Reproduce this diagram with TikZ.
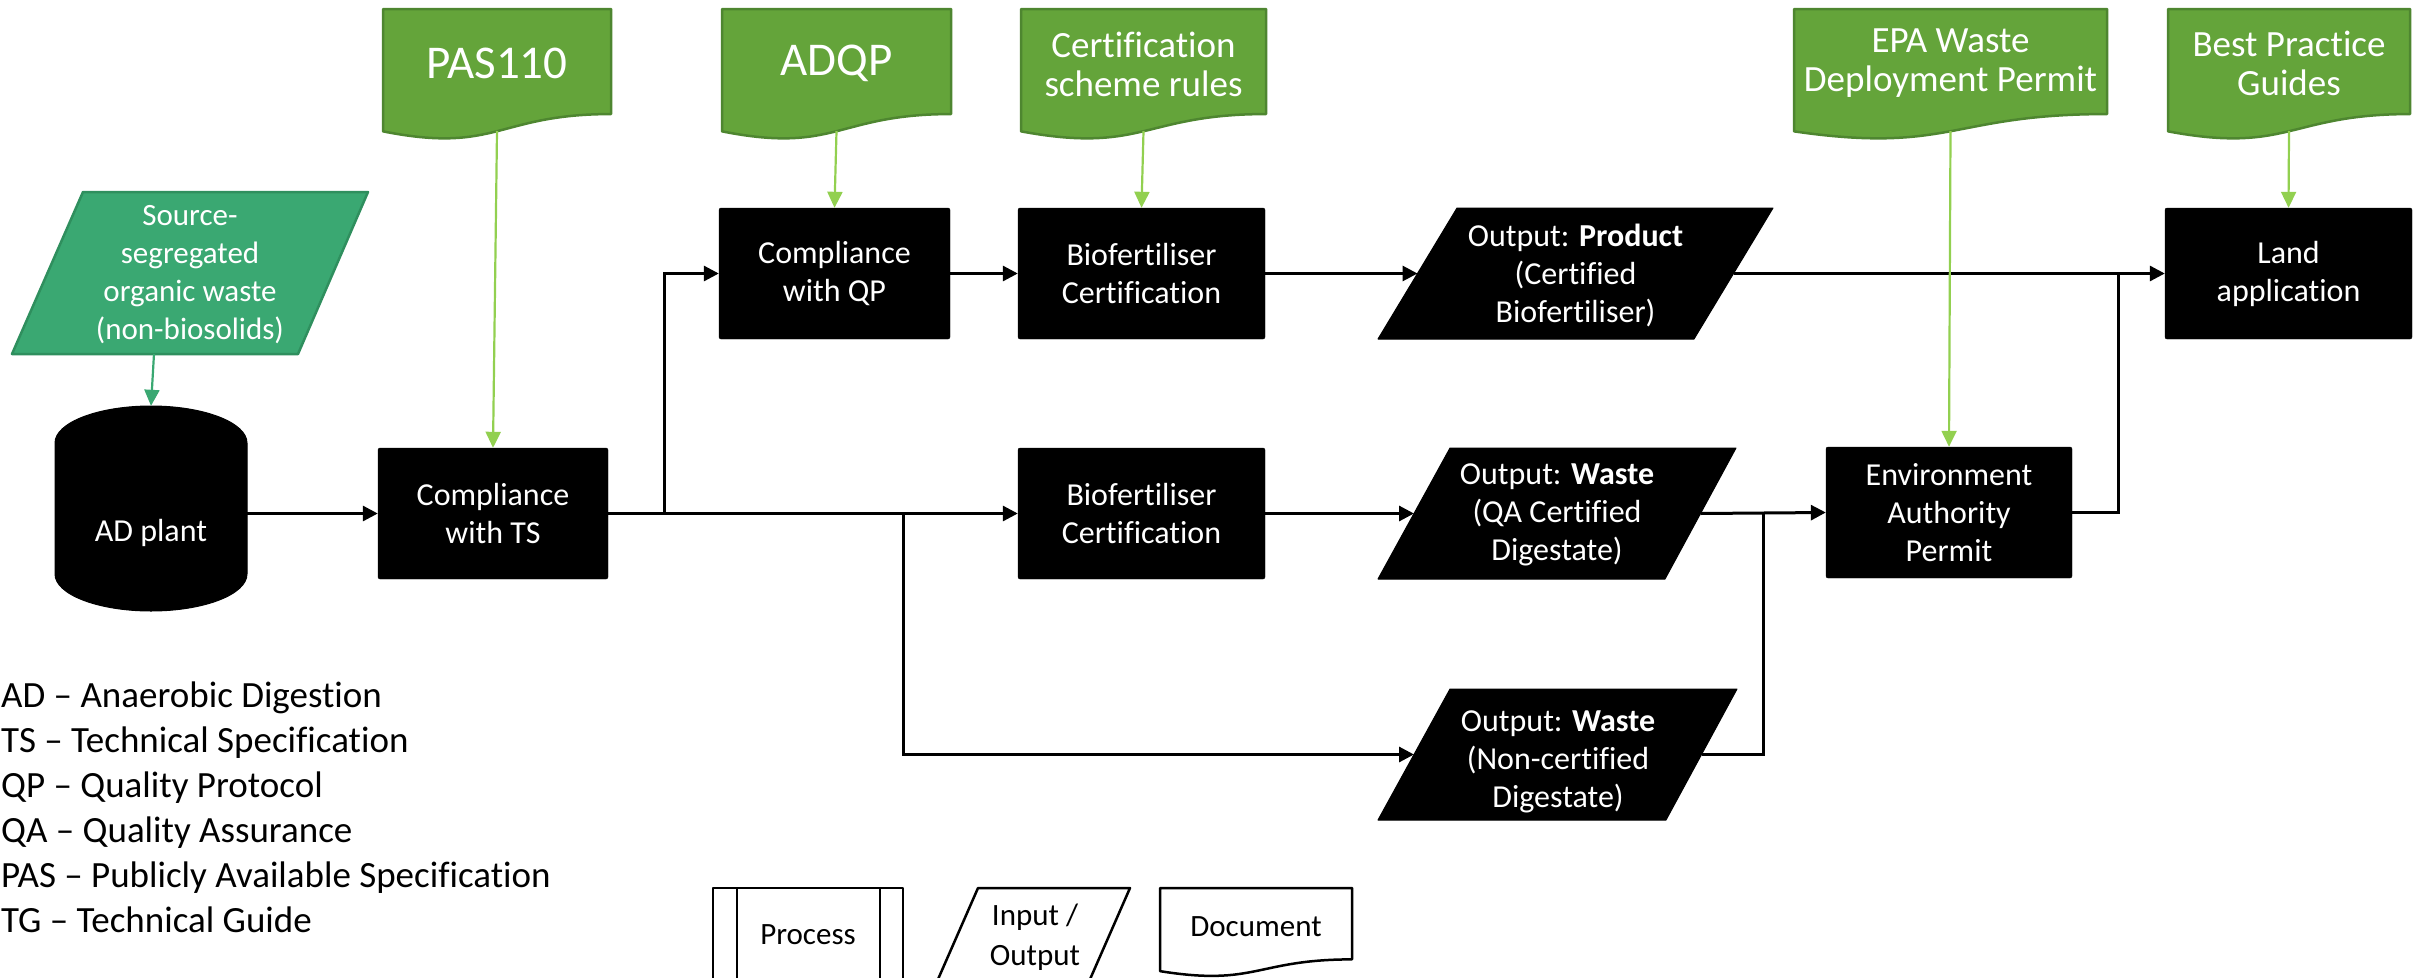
\documentclass[tikz,border=0pt]{standalone}
\usepackage{fontspec}
\setmainfont{Carlito}[Ligatures=NoCommon]
\usetikzlibrary{arrows.meta}

\definecolor{docgreen}{HTML}{64A43A}
\definecolor{docedge}{HTML}{4E8630}
\definecolor{srcgreen}{HTML}{3AA872}
\definecolor{srcedge}{HTML}{2F8F5E}
\definecolor{lime}{HTML}{92D050}

\newcommand\bxfont{\fontsize{32}{38}\selectfont}
\newcommand\bigdocfont{\fontsize{47}{56}\selectfont}
\newcommand\docfont{\fontsize{37}{39}\selectfont}
\newcommand\keyfont{\fontsize{37}{45}\selectfont}
\newcommand\legfont{\fontsize{31}{40}\selectfont}
\newcommand\srcfont{\fontsize{31}{38}\selectfont}

% document symbol: flat top, straight sides, wavy bottom
% #1 style, #2 left, #3 top, #4 right, #5 height
\newcommand\docshape[5]{%
  \path[#1] (#2,#3) -- (#4,#3) -- (#4,{#3+0.802*#5})
    .. controls ({(#2+#4)/2},{#3+0.802*#5}) and ({(#2+#4)/2},{#3+1.1075*#5})
    .. (#2,{#3+0.934*#5}) -- cycle;}

\tikzset{
  docbox/.style={fill=docgreen, draw=docedge, line width=2.5pt, line join=round},
  doclabel/.style={text=white, align=center, inner sep=0pt},
  stepbox/.style={rectangle, fill=black, draw=black, text=white, align=center,
    minimum height=131pt, inner sep=0pt, rounded corners=2pt, font=\bxfont},
  iobox/.style={fill=black, draw=black, line width=1pt, line join=round},
  iolabel/.style={text=white, align=center, inner sep=0pt, font=\bxfont},
  flow/.style={draw=black, line width=3pt, -{Triangle[length=15pt,width=15pt]}},
  plainflow/.style={draw=black, line width=3pt},
  refflow/.style={draw=lime, line width=2.2pt, -{Triangle[length=16pt,width=15pt]}},
  srcflow/.style={draw=srcgreen, line width=2.2pt, -{Triangle[length=16pt,width=15pt]}},
  legline/.style={draw=black, fill=white, line width=2.5pt, line join=round},
  leglabel/.style={align=center, inner sep=0pt, font=\legfont},
}

\begin{document}
\begin{tikzpicture}[x=1pt,y=-1pt]
\useasboundingbox (0,0) rectangle (2414,977);
\clip (0,0) rectangle (2414,977);

% ---------- reference documents ----------
\docshape{docbox}{383}{9}{611}{131}
\node[doclabel, font=\bigdocfont] (pas) at (497,63) {PAS110};
\coordinate (pas-foot) at (497,131);

\docshape{docbox}{722}{9}{951}{131}
\node[doclabel, font=\bigdocfont] (adqp) at (836.5,63) {ADQP};
\coordinate (adqp-foot) at (836.5,131);

\docshape{docbox}{1021}{9}{1266}{131}
\node[doclabel, font=\docfont] (rules) at (1143.5,64) {Certification\\scheme rules};
\coordinate (rules-foot) at (1143.5,131);

\docshape{docbox}{1794}{9}{2107}{131}
\node[doclabel, font=\docfont] (epa) at (1950.5,63) {EPA Waste\\Deployment Permit};
\coordinate (epa-foot) at (1950.5,131);

\docshape{docbox}{2168}{9}{2410}{131}
\node[doclabel, font=\docfont] (bpg) at (2289,63) {Best Practice\\Guides};
\coordinate (bpg-foot) at (2289,131);

% ---------- feedstock input ----------
\path[fill=srcgreen, draw=srcedge, line width=2.5pt, line join=round]
  (83,192) -- (368,192) -- (298,354) -- (12,354) -- cycle;
\node[doclabel, font=\srcfont] (src) at (190,275)
  {Source-\\segregated\\organic waste\\(non-biosolids)};
\coordinate (src-foot) at (154,354);

% ---------- digester (cylinder) ----------
\path[fill=black, draw=black, line width=1pt]
  (55,443) .. controls (55,422.6) and (98,406) .. (151,406)
           .. controls (204,406) and (247,422.6) .. (247,443)
  -- (247,574) .. controls (247,594.4) and (204,611) .. (151,611)
               .. controls (98,611) and (55,594.4) .. (55,574) -- cycle;
\node[minimum width=192pt, minimum height=205pt, inner sep=0pt] (ad) at (151,508.5) {};
\node[iolabel] (adlabel) at (151,533) {AD plant};

% ---------- process steps ----------
\node[stepbox, minimum width=230pt] (ts)   at (493,513.5)    {Compliance\\with TS};
\node[stepbox, minimum width=231pt] (qp)   at (834.5,273.5)  {Compliance\\with QP};
\node[stepbox, minimum width=247pt] (bioA) at (1141.5,273.5) {Biofertiliser\\Certification};
\node[stepbox, minimum width=247pt] (bioB) at (1141.5,513.5) {Biofertiliser\\Certification};
\node[stepbox, minimum width=246pt] (eap)  at (1949,512.5)   {Environment\\Authority\\Permit};
\node[stepbox, minimum width=247pt] (land) at (2288.5,273.5) {Land\\application};

% ---------- outputs ----------
\path[iobox] (1457,208) -- (1773,208) -- (1694,339) -- (1378,339) -- cycle;
\node[iolabel] (prod) at (1575.5,275) {Output: \textbf{Product}\\(Certified\\Biofertiliser)};
\coordinate (prod-in)  at (1417.5,273.5);
\coordinate (prod-out) at (1733.5,273.5);

\path[iobox] (1450,448) -- (1736,448) -- (1665,579) -- (1378,579) -- cycle;
\node[iolabel] (qa) at (1557,515) {Output: \textbf{Waste}\\(QA Certified\\Digestate)};
\coordinate (qa-in)  at (1414,513.5);
\coordinate (qa-out) at (1700.5,513.5);

\path[iobox] (1450,689) -- (1737,689) -- (1666,820) -- (1378,820) -- cycle;
\node[iolabel] (nc) at (1558,762) {Output: \textbf{Waste}\\(Non-certified\\Digestate)};
\coordinate (nc-in)  at (1414,754.5);
\coordinate (nc-out) at (1701.5,754.5);

% ---------- junctions ----------
\coordinate (j-qp)   at (664,513.5);
\coordinate (j-nc)   at (903.5,513.5);
\coordinate (j-eap)  at (1763.5,513);
\coordinate (j-land) at (2118.5,273.5);

% ---------- main flow ----------
\draw[flow] (ad.east |- ts.west) -- (ts.west);
\draw[flow] (ts.east) -- (bioB.west);
\draw[flow] (j-qp) |- (qp.west);
\draw[flow] (qp.east) -- (bioA.west);
\draw[flow] (bioA.east) -- (prod-in);
\draw[flow] (bioB.east) -- (qa-in);
\draw[flow] (j-nc) |- (nc-in);
\draw[flow] (qa-out) -- (eap.west);
\draw[plainflow] (nc-out) -| (j-eap);
\draw[plainflow] (eap.east) -| (j-land);
\draw[flow] (prod-out) -- (land.west);

% ---------- reference links ----------
\draw[srcflow] (src-foot) -- (ad.north);
\draw[refflow] (pas-foot) -- (ts.north);
\draw[refflow] (adqp-foot) -- (qp.north);
\draw[refflow] (rules-foot) -- (bioA.north);
\draw[refflow] (epa-foot) -- (eap.north);
\draw[refflow] (bpg-foot) -- (land.north);

% ---------- abbreviations ----------
\node[anchor=west, align=left, inner sep=0pt, font=\keyfont] (abbr) at (1,807)
  {AD -- Anaerobic Digestion\\
   TS -- Technical Specification\\
   QP -- Quality Protocol\\
   QA -- Quality Assurance\\
   PAS -- Publicly Available Specification\\
   TG -- Technical Guide};

% ---------- symbol key ----------
\path[legline] (713,888) rectangle (903,1019);
\draw[line width=2.5pt] (737,888) -- (737,1019);
\draw[line width=2.5pt] (880,888) -- (880,1019);
\node[leglabel] (kproc) at (808,935) {Process};

\path[legline] (978,888) -- (1130,888) -- (1072.6,1019) -- (920.6,1019) -- cycle;
\node[leglabel] (kio) at (1035,937) {Input /\\Output};

\docshape{legline}{1160}{888}{1352}{89}
\node[leglabel] (kdoc) at (1256,927) {Document};

\end{tikzpicture}
\end{document}
